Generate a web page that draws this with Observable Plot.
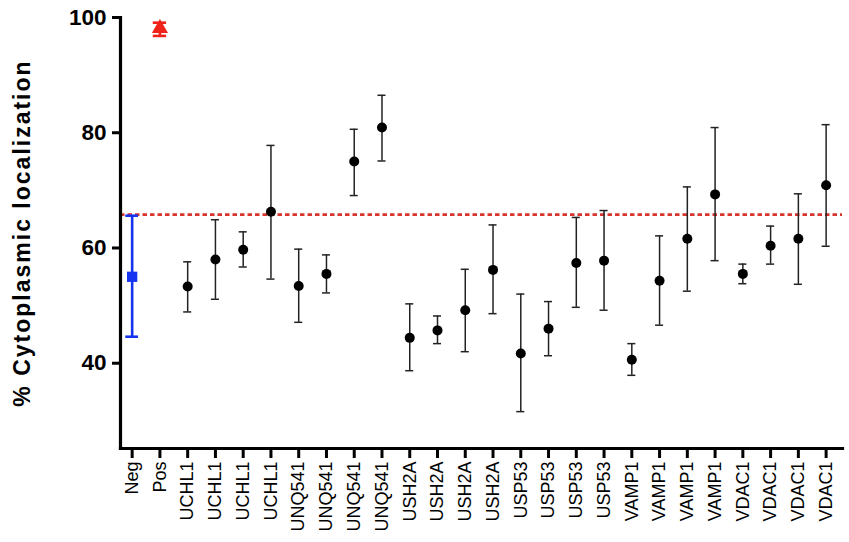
<!DOCTYPE html>
<html>
<head>
<meta charset="utf-8">
<script src="https://cdn.jsdelivr.net/npm/d3@7"></script>
<script src="https://cdn.jsdelivr.net/npm/@observablehq/plot@0.6"></script>
<style>
  html, body { margin: 0; padding: 0; background: #fff; }
</style>
</head>
<body>
<div id="chart"></div>
<script>
const labels = ["Neg","Pos",
  "UCHL1","UCHL1","UCHL1","UCHL1",
  "UNQ541","UNQ541","UNQ541","UNQ541",
  "USH2A","USH2A","USH2A","USH2A",
  "USP53","USP53","USP53","USP53",
  "VAMP1","VAMP1","VAMP1","VAMP1",
  "VDAC1","VDAC1","VDAC1","VDAC1"];
const means = [55.0, 98.1, 53.3, 58.0, 59.7, 66.3, 53.4, 55.5, 75.0, 80.9, 44.4, 45.7, 49.2, 56.2, 41.7, 46.0, 57.4, 57.8, 40.6, 54.3, 61.6, 69.3, 55.5, 60.4, 61.6, 70.9];
const upper = [65.6, 99.1, 57.6, 64.9, 62.8, 77.8, 59.8, 58.8, 80.6, 86.5, 50.3, 48.2, 56.3, 64.0, 52.0, 50.7, 65.3, 66.5, 43.4, 62.1, 70.6, 80.9, 57.2, 63.8, 69.4, 81.4];
const lower = [44.6, 96.8, 48.9, 51.1, 56.7, 54.6, 47.1, 52.2, 69.1, 75.1, 38.7, 43.4, 42.0, 48.6, 31.6, 41.3, 49.7, 49.2, 37.9, 46.6, 52.5, 57.8, 53.8, 57.2, 53.7, 60.3];
const threshold = 65.8;
const yTicks = [40, 60, 80, 100];
const yLabel = "% Cytoplasmic localization";

const rows = labels.map((label, i) => ({i, label, mean: means[i], lo: lower[i], hi: upper[i]}));
const neg = rows.filter(d => d.i === 0);
const pos = rows.filter(d => d.i === 1);
const samples = rows.filter(d => d.i > 1);

const cap = 0.145, capNeg = 0.23, capPos = 0.24;
const font = "'Liberation Sans', Arial, Helvetica, sans-serif";

function errorMarks(data, color, width, c) {
  return [
    Plot.ruleX(data, {x: "i", y1: "lo", y2: "hi", stroke: color, strokeWidth: width}),
    Plot.ruleY(data, {y: "lo", x1: d => d.i - c, x2: d => d.i + c, stroke: color, strokeWidth: width}),
    Plot.ruleY(data, {y: "hi", x1: d => d.i - c, x2: d => d.i + c, stroke: color, strokeWidth: width})
  ];
}

const chart = Plot.plot({
  width: 849,
  height: 542,
  marginLeft: 120,
  marginRight: 7,
  marginTop: 17,
  marginBottom: 94,
  style: {fontFamily: font, background: "#fff", color: "#000"},
  x: {type: "linear", domain: [-0.42, 25.59]},
  y: {domain: [25.2, 100]},
  marks: [
    Plot.ruleY([threshold], {stroke: "#d8352e", strokeWidth: 2.8, strokeDasharray: "4.5,3"}),
    ...errorMarks(samples, "#222", 1.5, cap),
    Plot.dot(samples, {x: "i", y: "mean", r: 5, fill: "#000"}),
    ...errorMarks(neg, "#1533f0", 2.6, capNeg),
    Plot.dot(neg, {x: "i", y: "mean", symbol: "square", r: 5.8, fill: "#1533f0"}),
    ...errorMarks(pos, "#f0231a", 2.6, capPos),
    Plot.dot(pos, {x: "i", y: "mean", symbol: "triangle", r: 6, fill: "#f0231a"}),
    Plot.frame({anchor: "left", stroke: "#000", strokeWidth: 3.2}),
    Plot.frame({anchor: "bottom", stroke: "#000", strokeWidth: 3.2}),
    Plot.axisY({ticks: yTicks, tickSize: 8, tickPadding: 6, fontSize: 22.5, fontWeight: "bold", strokeWidth: 3, label: null}),
    Plot.axisX({ticks: d3.range(labels.length), tickFormat: i => labels[i], tickRotate: -90, tickSize: 10, tickPadding: 3, fontSize: 18, strokeWidth: 3, label: null}),
    Plot.text([yLabel], {frameAnchor: "left", textAnchor: "middle", rotate: -90, dx: -98, fontSize: 23, fontWeight: "bold", fill: "#000"})
  ]
});
d3.select(chart).selectAll("text")
  .filter(function() { return this.textContent === yLabel; })
  .attr("letter-spacing", "2px")
  .style("letter-spacing", "2px");
document.getElementById("chart").appendChild(chart);
</script>
</body>
</html>
